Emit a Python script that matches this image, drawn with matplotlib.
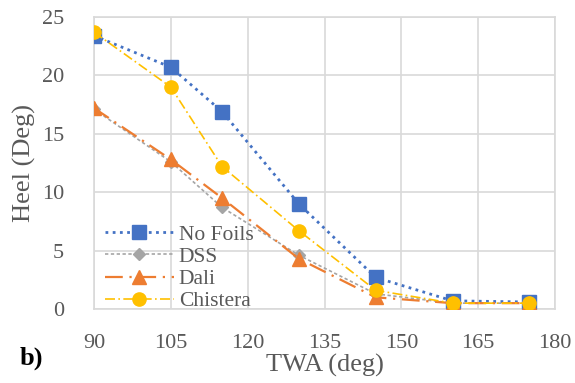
import numpy as np
import matplotlib.pyplot as plt

plt.rcParams['font.family'] = ['Liberation Serif', 'DejaVu Serif']

twa = [90, 105, 115, 130, 145, 160, 175]
heel_no_foils = [23.4, 20.7, 16.9, 9.0, 2.7, 0.7, 0.6]
heel_dss = [17.1, 12.6, 8.7, 4.6, 1.3, 0.5, 0.5]
heel_dali = [17.2, 12.8, 9.5, 4.3, 1.0, 0.5, 0.5]
heel_chistera = [23.7, 19.0, 12.2, 6.7, 1.6, 0.5, 0.5]

txt = '#595959'
grid = '#D9D9D9'

fig = plt.figure(figsize=(5.75, 3.83), dpi=100)
ax = fig.add_axes([94/575, 1-309/383, (555-94)/575, (309-17)/383])

ax.plot(twa, heel_no_foils, color='#4472C4', ls=(0, (1, 1.6)), lw=2,
        marker='s', ms=9.5, label='No Foils', zorder=3)
ax.plot(twa, heel_dss, color='#A5A5A5', ls=(0, (2, 1.5)), lw=1.2,
        marker='D', ms=6.5, label='DSS', zorder=3)
ax.plot(twa, heel_dali, color='#ED7D31', ls=(0, (8, 3, 1, 3)), lw=1.6,
        marker='^', ms=9.5, label='Dali', zorder=3)
ax.plot(twa, heel_chistera, color='#FFC000', ls=(0, (6, 2, 1, 2)), lw=1.2,
        marker='o', ms=9.5, label='Chistera', zorder=4)

ax.set_xlim(90, 180)
ax.set_ylim(0, 25)
ax.set_xticks(np.arange(90, 181, 15))
ax.set_yticks(np.arange(0, 26, 5))
ax.grid(True, color=grid, lw=1.2)
ax.set_axisbelow(True)
for s in ax.spines.values():
    s.set_color(grid)
    s.set_linewidth(1.2)
ax.tick_params(length=0, labelsize=16, colors=txt)
ax.tick_params(axis='x', pad=18)
ax.tick_params(axis='y', pad=21.5)

ax.set_xlabel('TWA (deg)', fontsize=19, color=txt, labelpad=1)
ax.set_ylabel('Heel (Deg)', fontsize=19, color=txt, labelpad=4)

leg = ax.legend(loc='lower left', bbox_to_anchor=(-0.005, -0.052), frameon=False,
                fontsize=15.5, labelcolor=txt, handlelength=3.2,
                handletextpad=0.25, labelspacing=0.1, borderaxespad=0.2)

fig.text(20/575, 1-358/383, 'b)', fontsize=19, fontweight='bold',
         va='center', ha='left', color='black')

fig.savefig('out.png', dpi=100)
